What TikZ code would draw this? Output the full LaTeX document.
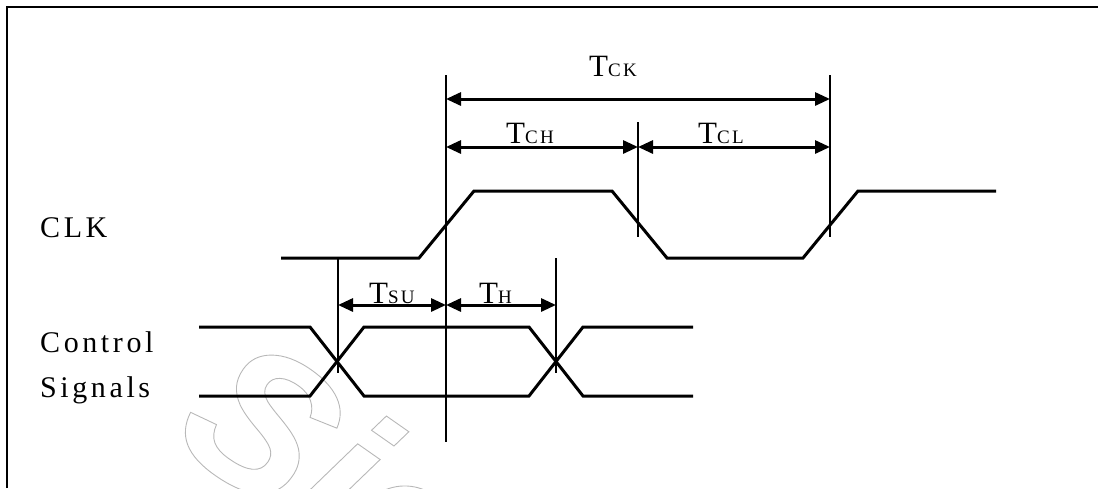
\documentclass[tikz,border=0pt]{standalone}
\usepackage{fontspec}
\setmainfont{Liberation Serif}
\newfontfamily\lblfont[LetterSpace=12]{Liberation Serif}
\newfontfamily\wmfont{Liberation Sans}
\usetikzlibrary{arrows.meta}
\newcommand\tlab[1]{{\fontsize{31}{36}\selectfont T}{\lblfont\fontsize{19}{22}\selectfont #1}}
\begin{document}
\begin{tikzpicture}[x=1pt,y=-1pt,
  wave/.style={line width=3pt, line join=miter},
  tickline/.style={line width=2.2pt},
  frameline/.style={line width=2.5pt},
  dim/.style={line width=3pt, {Triangle[length=15pt,width=13pt]}-{Triangle[length=15pt,width=13pt]}},
  lbl/.style={font=\lblfont\fontsize{30}{36}\selectfont, inner sep=0pt, anchor=base west},
  tl/.style={inner sep=0pt, anchor=base west},
  wm/.style={text=black!28, inner sep=0pt, font=\wmfont\bfseries\itshape\fontsize{200}{200}\selectfont}]
\useasboundingbox (0,0) rectangle (1098,488);
% watermark
\node[wm, rotate=-35, anchor=base west] (wmark) at (168,440) {\special{pdf:literal 1 Tr 0.9 w}Sie};
% frame
\coordinate (fbl) at (7,488);
\coordinate (ftl) at (7,7);
\coordinate (ftr) at (1098,7);
\draw[frameline] (fbl) -- (ftl) -- (ftr);
% labels
\node[lbl] (clk) at (40,237) {CLK};
\node[lbl] (ctrl) at (40,352) {Control};
\node[lbl] (sig) at (40,397) {Signals};
% clock waveform
\draw[wave] (281,258) -- (419,258) -- (474,191) -- (612,191) -- (667,258) -- (803,258) -- (858,191) -- (996,191);
% control signals
\draw[wave] (199,327) -- (310,327) -- (364,396) -- (529,396) -- (583,327) -- (693,327);
\draw[wave] (199,396) -- (310,396) -- (364,327) -- (529,327) -- (583,396) -- (693,396);
% reference lines
\coordinate (v1t) at (446,75);  \coordinate (v1b) at (446,442);
\coordinate (v2t) at (638,122); \coordinate (v2b) at (638,237);
\coordinate (v3t) at (830,75);  \coordinate (v3b) at (830,237);
\coordinate (v4t) at (338,258); \coordinate (v4b) at (338,373);
\coordinate (v5t) at (556,258); \coordinate (v5b) at (556,373);
\draw[tickline] (v1t) -- (v1b);
\draw[tickline] (v2t) -- (v2b);
\draw[tickline] (v3t) -- (v3b);
\draw[tickline] (v4t) -- (v4b);
\draw[tickline] (v5t) -- (v5b);
% dimension arrows
\coordinate (ck1) at (446,99);  \coordinate (ck2) at (830,99);
\coordinate (ch1) at (446,147); \coordinate (ch2) at (638,147);
\coordinate (cl2) at (830,147);
\coordinate (su1) at (338,305); \coordinate (su2) at (446,305);
\coordinate (h2) at (556,305);
\draw[dim] (ck1) -- (ck2);
\draw[dim] (ch1) -- (ch2);
\draw[dim] (ch2) -- (cl2);
\draw[dim] (su1) -- (su2);
\draw[dim] (su2) -- (h2);
% timing labels
\node[tl] (tck) at (589,76) {\tlab{CK}};
\node[tl] (tch) at (506,143) {\tlab{CH}};
\node[tl] (tcl) at (698,143) {\tlab{CL}};
\node[tl] (tsu) at (369,303) {\tlab{SU}};
\node[tl] (th) at (479,303) {\tlab{H}};
\end{tikzpicture}
\end{document}
